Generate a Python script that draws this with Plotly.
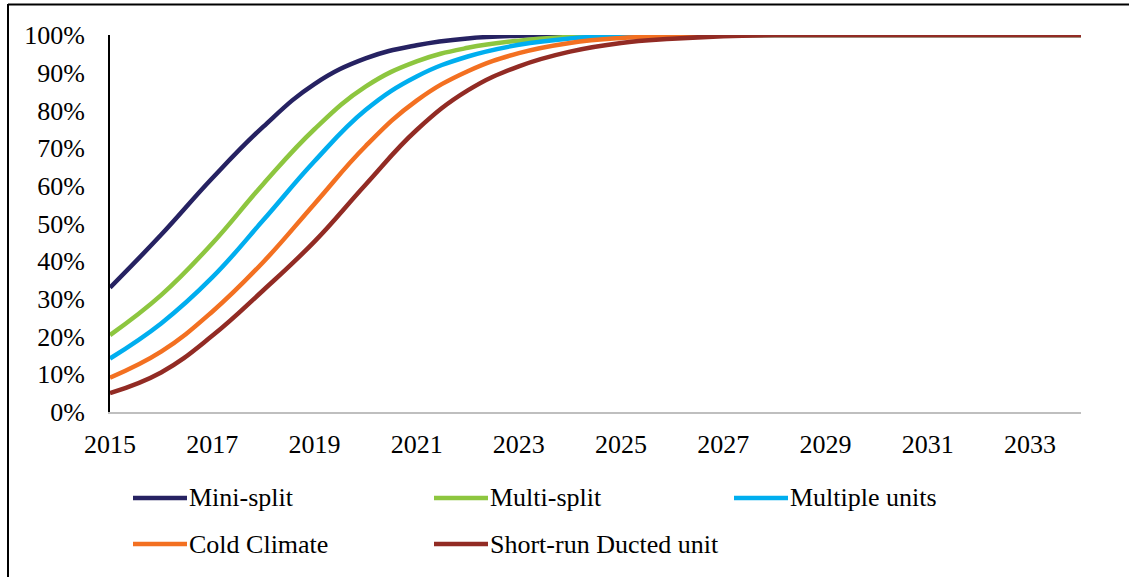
import plotly.graph_objects as go

# Adoption share (fraction) by year for each heat-pump configuration
years = list(range(2015, 2035))

mini_split = [0.330, 0.470, 0.620, 0.757, 0.870, 0.938, 0.973, 0.991, 0.998, 1.000,
              1.000, 1.000, 1.000, 1.000, 1.000, 1.000, 1.000, 1.000, 1.000, 1.000]
multi_split = [0.204, 0.310, 0.447, 0.605, 0.750, 0.863, 0.930, 0.966, 0.985, 0.995,
               0.999, 1.000, 1.000, 1.000, 1.000, 1.000, 1.000, 1.000, 1.000, 1.000]
multiple_units = [0.142, 0.235, 0.357, 0.509, 0.665, 0.801, 0.890, 0.943, 0.974, 0.991,
                  0.998, 1.000, 1.000, 1.000, 1.000, 1.000, 1.000, 1.000, 1.000, 1.000]
cold_climate = [0.091, 0.160, 0.266, 0.398, 0.552, 0.705, 0.826, 0.904, 0.952, 0.979,
                0.992, 0.997, 1.000, 1.000, 1.000, 1.000, 1.000, 1.000, 1.000, 1.000]
short_run_ducted = [0.050, 0.105, 0.202, 0.323, 0.452, 0.603, 0.748, 0.853, 0.917, 0.956,
                    0.979, 0.990, 0.997, 1.000, 1.000, 1.000, 1.000, 1.000, 1.000, 1.000]

series_names = ["Mini-split", "Multi-split", "Multiple units", "Cold Climate", "Short-run Ducted unit"]
series_values = [mini_split, multi_split, multiple_units, cold_climate, short_run_ducted]
series_colors = ["#262262", "#8DC63F", "#00AEEF", "#F37021", "#922B24"]

x_tick_vals = list(range(2015, 2035, 2))

W, H = 1129, 577
L, R, T, B = 110, 48, 35, 165
PW, PH = W - L - R, H - T - B

def px_x(px):
    return (px - L) / PW

def px_y(py):
    return 1 - (py - T) / PH

FONT = "Liberation Serif"
FS = 26

fig = go.Figure()
for name, vals, color in zip(series_names, series_values, series_colors):
    fig.add_trace(go.Scatter(
        x=years, y=vals, name=name, mode="lines",
        line=dict(color=color, width=4.5, shape="spline", smoothing=1.2),
        showlegend=False,
    ))

# Legend drawn as line swatches with labels, two rows of three columns
legend_cols = [133, 434, 734]
legend_rows = [498, 544]
shapes = []
annotations = []
for i, (name, color) in enumerate(zip(series_names, series_colors)):
    cx = legend_cols[i % 3]
    cy = legend_rows[i // 3]
    shapes.append(dict(type="line", xref="paper", yref="paper",
                       x0=px_x(cx), x1=px_x(cx + 54), y0=px_y(cy), y1=px_y(cy),
                       line=dict(color=color, width=4.5)))
    annotations.append(dict(xref="paper", yref="paper", x=px_x(cx + 54), y=px_y(cy),
                            xanchor="left", yanchor="middle", text=name, showarrow=False,
                            font=dict(family=FONT, size=FS, color="#000000")))

# Outer frame (left and top edges)
shapes.append(dict(type="line", xref="paper", yref="paper",
                   x0=px_x(8), x1=px_x(8), y0=px_y(4), y1=px_y(600),
                   line=dict(color="#000000", width=2)))
shapes.append(dict(type="line", xref="paper", yref="paper",
                   x0=px_x(8), x1=px_x(1140), y0=px_y(4.5), y1=px_y(4.5),
                   line=dict(color="#000000", width=2)))

fig.update_layout(
    width=W, height=H,
    margin=dict(l=L, r=R, t=T, b=B, pad=0),
    paper_bgcolor="white", plot_bgcolor="white",
    font=dict(family=FONT, size=FS, color="#000000"),
    shapes=shapes, annotations=annotations,
    showlegend=False,
)
fig.update_xaxes(
    range=[2015, 2034], tickvals=x_tick_vals, ticktext=[str(v) for v in x_tick_vals],
    showgrid=False, zeroline=False, showline=True, linecolor="#BFBFBF", linewidth=2,
    ticks="", ticklabelstandoff=8, tickfont=dict(family=FONT, size=FS),
)
fig.update_yaxes(
    range=[0, 1], dtick=0.1, tickformat=".0%",
    showgrid=False, zeroline=False, showline=True, linecolor="#000000", linewidth=2,
    ticks="", ticklabelstandoff=18, tickfont=dict(family=FONT, size=FS),
)

fig.write_html("out.html")
